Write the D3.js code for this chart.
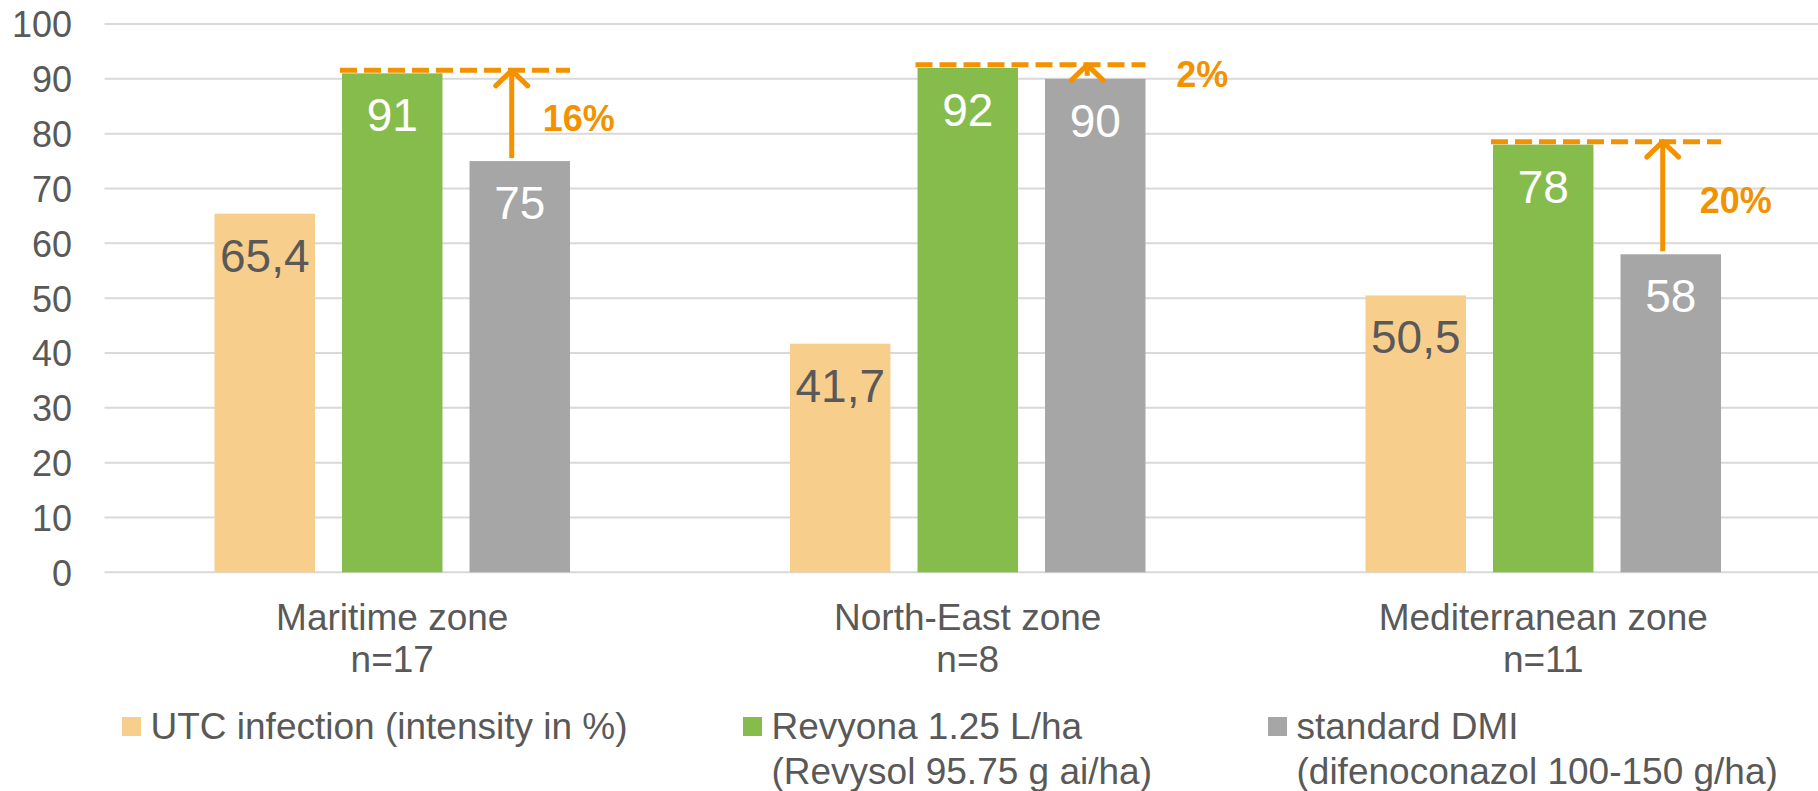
<!DOCTYPE html>
<html>
<head>
<meta charset="utf-8">
<script src="https://cdn.jsdelivr.net/npm/d3@7"></script>
<style>
  html, body { margin: 0; padding: 0; background: #ffffff; }
  svg { display: block; }
  text { font-family: "Liberation Sans", Arial, sans-serif; }
</style>
</head>
<body>
<svg id="chart" width="1818" height="791"></svg>
<script>
// ---- data ----
const zones = ["Maritime zone", "North-East zone", "Mediterranean zone"];
const zoneCounts = ["n=17", "n=8", "n=11"];
const seriesKeys = ["utc", "revyona", "dmi"];
const utcValues = [65.4, 41.7, 50.5];
const revyonaValues = [91, 92, 78];
const dmiValues = [75, 90, 58];
const gainLabels = ["16%", "2%", "20%"];
const yTicks = [0, 10, 20, 30, 40, 50, 60, 70, 80, 90, 100];
const legendLines = [
  ["UTC infection (intensity in %)"],
  ["Revyona 1.25 L/ha", "(Revysol 95.75 g ai/ha)"],
  ["standard DMI", "(difenoconazol 100-150 g/ha)"]
];

// ---- styles / layout ----
const colors = { utc: "#F8CE8D", revyona: "#86BC4C", dmi: "#A6A6A6" };
const valueTextColors = { utc: "#595959", revyona: "#ffffff", dmi: "#ffffff" };
const accent = "#F39200";
const textGray = "#595959";
const gainLabelDx = [31, 89, 37];
const legendX = [122, 743, 1268];

const svg = d3.select("#chart");
const plotLeft = 104.5, step = 575.5;
const y = d3.scaleLinear().domain([0, 100]).range([572.3, 24]);
const x0 = d3.scaleBand().domain(zones).range([plotLeft, plotLeft + step * 3]).paddingInner(0).paddingOuter(0);
const x1 = d3.scaleBand().domain(seriesKeys).range([0, 355.5]).paddingInner(0.212).paddingOuter(0);
const groupOffset = (x0.bandwidth() - 355.5) / 2;
const bw = x1.bandwidth();

const rows = zones.map((z, i) => ({
  zone: z, i,
  utc: utcValues[i], revyona: revyonaValues[i], dmi: dmiValues[i]
}));

// gridlines
svg.append("g")
  .selectAll("line").data(yTicks).join("line")
  .attr("x1", plotLeft).attr("x2", 1818)
  .attr("y1", d => y(d)).attr("y2", d => y(d))
  .attr("stroke", "#D9D9D9").attr("stroke-width", 2);

// y axis labels
const yAxis = d3.axisLeft(y).tickValues(yTicks).tickSize(0).tickPadding(0);
const yg = svg.append("g").attr("transform", "translate(72,0)").call(yAxis);
yg.select(".domain").remove();
yg.selectAll("text")
  .attr("font-size", 36).attr("fill", textGray)
  .attr("font-family", "'Liberation Sans', Arial, sans-serif")
  .attr("dy", "0.36em");

// bars
const groups = svg.append("g").selectAll("g").data(rows).join("g")
  .attr("transform", d => `translate(${x0(d.zone) + groupOffset},0)`);

groups.selectAll("rect").data(d => seriesKeys.map(k => ({ key: k, value: d[k] })))
  .join("rect")
  .attr("x", d => x1(d.key)).attr("width", bw)
  .attr("y", d => y(d.value)).attr("height", d => y(0) - y(d.value))
  .attr("fill", d => colors[d.key]);

groups.selectAll("text.val").data(d => seriesKeys.map(k => ({ key: k, value: d[k] })))
  .join("text").attr("class", "val")
  .attr("x", d => x1(d.key) + bw / 2)
  .attr("y", d => y(d.value) + 58)
  .attr("text-anchor", "middle")
  .attr("font-size", 46)
  .attr("fill", d => valueTextColors[d.key])
  .text(d => String(d.value).replace(".", ","));

// annotations: dashed line + arrow + gain label
rows.forEach((d, i) => {
  const gx = x0(d.zone) + groupOffset;
  const lineY = y(d.revyona) - 3;
  const xs = gx + x1("revyona") - 2;
  const xe = gx + x1("dmi") + bw;
  svg.append("line")
    .attr("x1", xs).attr("x2", xe).attr("y1", lineY).attr("y2", lineY)
    .attr("stroke", accent).attr("stroke-width", 5)
    .attr("stroke-dasharray", "17,7");
  const ax = gx + x1("dmi") + bw * 0.42;
  const bottom = y(d.dmi) - 3;
  svg.append("line")
    .attr("x1", ax).attr("x2", ax).attr("y1", bottom).attr("y2", lineY)
    .attr("stroke", accent).attr("stroke-width", 5);
  svg.append("path")
    .attr("d", `M${ax - 16},${lineY + 15.5}L${ax},${lineY}L${ax + 16},${lineY + 15.5}`)
    .attr("fill", "none").attr("stroke", accent).attr("stroke-width", 5)
    .attr("stroke-linecap", "round").attr("stroke-linejoin", "round");
  svg.append("text")
    .attr("x", ax + gainLabelDx[i])
    .attr("y", (bottom + lineY) / 2 + 16.5)
    .attr("font-size", 36).attr("font-weight", "bold")
    .attr("fill", accent)
    .text(gainLabels[i]);
});

// category labels
const cat = svg.append("g").selectAll("g").data(rows).join("g");
cat.append("text")
  .attr("x", d => x0(d.zone) + x0.bandwidth() / 2).attr("y", 630)
  .attr("text-anchor", "middle").attr("font-size", 37).attr("fill", textGray)
  .text(d => d.zone);
cat.append("text")
  .attr("x", d => x0(d.zone) + x0.bandwidth() / 2).attr("y", 671.7)
  .attr("text-anchor", "middle").attr("font-size", 37).attr("fill", textGray)
  .text((d, i) => zoneCounts[i]);

// legend
const lg = svg.append("g").selectAll("g").data(seriesKeys).join("g")
  .attr("transform", (d, i) => `translate(${legendX[i]},0)`);
lg.append("rect").attr("x", 0).attr("y", 717).attr("width", 19).attr("height", 19)
  .attr("fill", d => colors[d]);
lg.each(function (d, i) {
  const g = d3.select(this);
  legendLines[i].forEach((t, j) => {
    g.append("text").attr("x", 28.5).attr("y", 739 + j * 44.5)
      .attr("font-size", 37).attr("fill", textGray).text(t);
  });
});
</script>
</body>
</html>
